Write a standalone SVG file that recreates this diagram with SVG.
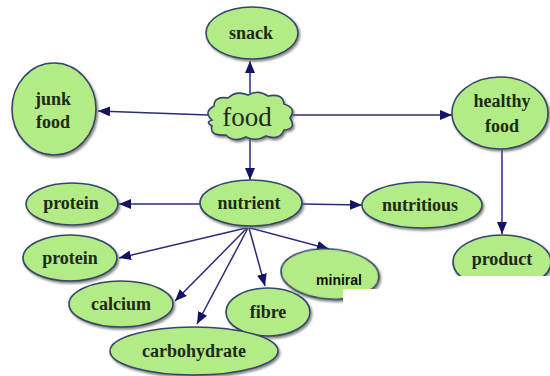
<svg xmlns="http://www.w3.org/2000/svg" width="550" height="376" viewBox="0 0 550 376">
<defs>
<style>
.n{fill:#b3ec86;stroke:#34466a;stroke-width:1.6;filter:url(#sh)}
.t{font-family:"Liberation Serif","Times New Roman",serif;font-size:18px;font-weight:bold;fill:#1c2a14;text-anchor:middle}
.c{stroke:#2b2b78;stroke-width:1.5;fill:none;marker-end:url(#ah)}
</style>
<filter id="sh" x="-20%" y="-20%" width="140%" height="140%">
<feDropShadow dx="1.5" dy="2" stdDeviation="1" flood-color="#6a6a6a" flood-opacity="0.8"/>
</filter>
<marker id="ah" viewBox="0 0 12 10" refX="12" refY="5" markerWidth="12" markerHeight="10" markerUnits="userSpaceOnUse" orient="auto">
<path d="M0,0 L12,5 L0,10 z" fill="#141466"/>
</marker>
</defs>
<rect width="550" height="376" fill="#ffffff"/>
<g id="connectors">
<line class="c" x1="250" y1="93" x2="250" y2="61"/>
<line class="c" x1="208" y1="115" x2="98" y2="111"/>
<line class="c" x1="292" y1="115" x2="452" y2="115"/>
<line class="c" x1="250" y1="137" x2="250" y2="180"/>
<line class="c" x1="502" y1="149" x2="502" y2="234"/>
<line class="c" x1="200" y1="204" x2="119" y2="204"/>
<line class="c" x1="302" y1="204" x2="362" y2="205"/>
<line class="c" x1="246" y1="228" x2="119" y2="258"/>
<line class="c" x1="247" y1="228" x2="175" y2="301"/>
<line class="c" x1="248" y1="228" x2="197" y2="324"/>
<line class="c" x1="249" y1="228" x2="265" y2="286"/>
<line class="c" x1="250" y1="228" x2="329" y2="249"/>
</g>
<g id="snack"><ellipse class="n" cx="252" cy="33" rx="46" ry="26"/><text class="t" x="251" y="39">snack</text></g>
<g id="junk-food"><ellipse class="n" cx="54" cy="109" rx="42" ry="46"/><text class="t" x="53" y="105">junk</text><text class="t" x="53" y="128">food</text></g>
<g id="food"><path class="n" d="M212,120 Q203,112 214,106 Q214,96 228,98 Q236,90 248,95 Q258,89 268,96 Q283,93 284,104 Q297,108 290,118 Q297,129 284,130 Q280,141 266,136 Q256,142 246,137 Q234,143 226,135 Q209,136 212,126 Q205,122 212,120 Z"/><text x="247" y="126" font-family="Liberation Serif, Times New Roman, serif" font-size="27" fill="#1c2a14" text-anchor="middle">food</text></g>
<g id="healthy-food"><ellipse class="n" cx="500" cy="113" rx="48" ry="36"/><text class="t" x="502" y="107">healthy</text><text class="t" x="502" y="132">food</text></g>
<g id="product"><ellipse class="n" cx="502" cy="262" rx="49" ry="27"/><text class="t" x="502" y="265">product</text></g>
<g id="nutrient"><ellipse class="n" cx="251" cy="203" rx="51" ry="23"/><text class="t" x="249" y="209">nutrient</text></g>
<g id="nutritious"><ellipse class="n" cx="422" cy="205" rx="60" ry="23"/><text class="t" x="420" y="211">nutritious</text></g>
<g id="protein-1"><ellipse class="n" cx="72" cy="204" rx="46" ry="21"/><text class="t" x="71" y="209">protein</text></g>
<g id="protein-2"><ellipse class="n" cx="70" cy="258" rx="47" ry="23"/><text class="t" x="70" y="264">protein</text></g>
<g id="calcium"><ellipse class="n" cx="121" cy="304" rx="52" ry="23"/><text class="t" x="121" y="310">calcium</text></g>
<g id="fibre"><ellipse class="n" cx="268" cy="312" rx="42" ry="24"/><text class="t" x="268" y="318">fibre</text></g>
<g id="carbohydrate"><ellipse class="n" cx="194" cy="351" rx="84" ry="24"/><text class="t" x="194" y="357">carbohydrate</text></g>
<g id="miniral"><ellipse class="n" cx="330" cy="274" rx="49" ry="25" transform="rotate(4 330 274)"/><rect x="343" y="289" width="42" height="16" fill="#ffffff"/><text x="339" y="285" font-family="Liberation Sans, Arial, sans-serif" font-size="14" font-weight="bold" fill="#111111" text-anchor="middle">miniral</text></g>
<rect x="446" y="276" width="104" height="20" fill="#ffffff"/>
</svg>
